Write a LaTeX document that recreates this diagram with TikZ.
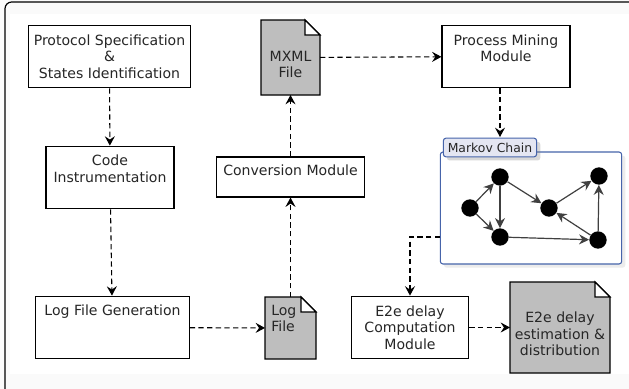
\documentclass[tikz,border=0pt]{standalone}
\usepackage{fontspec}
\setmainfont{DejaVu Sans}
\usetikzlibrary{arrows.meta,shapes,positioning,shadows}
\definecolor{docgray}{RGB}{190,190,190}
\definecolor{chainblue}{RGB}{70,100,170}
\definecolor{tabfill}{RGB}{228,230,242}
\tikzset{
  basic/.style = {draw=black, line width=0.85pt, rectangle, align=center, font=\fontsize{10.55}{12.5}\selectfont, text=black!85},
  module/.style = {basic, fill=white},
  doc/.style = {align=center, font=\fontsize{10.55}{12.5}\selectfont, text=black!85},
  sheet/.style = {inner sep=0pt, outer sep=0pt},
  link/.style = {-{Stealth[length=7pt,width=7.5pt,inset=2.5pt]}, line width=0.8pt, dash pattern=on 4pt off 2.5pt},
  plain link/.style = {-{Stealth[length=7.5pt,width=7.5pt,inset=2.5pt]}, line width=0.9pt, black!75},
  state/.style = {circle, fill=black, inner sep=0pt, minimum size=13pt},
}
% folded sheet: name, left, top, right, bottom, fold
\newcommand{\docsheet}[6]{
  \draw[line width=0.85pt, fill=docgray] (#2,#3) -- (#4-#6,#3) -- (#4,#3+#6) -- (#4,#5) -- (#2,#5) -- cycle;
  \draw[line width=0.85pt, fill=white] (#4-#6,#3) -- (#4,#3+#6) -- (#4-#6,#3+#6) -- cycle;
  \node[sheet, minimum width={(#4-#2)*0.75pt}, minimum height={(#5-#3)*0.75pt}] (#1) at ({(#2+#4)/2},{(#3+#5)/2}) {};
}
\begin{document}
\begin{tikzpicture}[x=0.75pt,y=-0.75pt]
  \useasboundingbox (0,0) rectangle (629,389);
  \fill[black!2] (0,0) rectangle (629,389);
  \fill[white] (10,14) rectangle (629,374);
  \draw[line width=0.9pt, rounded corners=5pt] (5,390) -- (5,2) -- (630,2);

  % left column
  \node[module, minimum width=122pt, minimum height=47pt] (spec) at (109.5,56.5) {Protocol Specification\\\&\\States Identification};
  \node[module, minimum width=96pt, minimum height=47pt, text depth=13pt] (code) at (110,177.5) {Code\\Instrumentation};
  \node[module, minimum width=115pt, minimum height=47pt, text depth=26pt] (gen) at (112.5,327.5) {Log File Generation};

  % middle column
  \node[module, minimum width=111pt, minimum height=30pt, text depth=11pt] (conv) at (290.5,177) {Conversion Module};
  \docsheet{mxml}{261}{20}{320}{95}{15}
  \node[doc] (mxmltext) at (290.5,64.5) {MXML\\File};
  \docsheet{log}{265}{297}{316}{359}{15}
  \node[doc, anchor=north west, align=left, inner sep=0pt] (logtext) at (271,304.5) {Log\\File};

  % right column
  \node[module, minimum width=96pt, minimum height=47pt, text depth=12.5pt] (mining) at (506,56.5) {Process Mining\\Module};
  \node[module, minimum width=88pt, minimum height=47pt] (delay) at (410,327.5) {E2e delay\\Computation\\Module};
  \docsheet{est}{510}{282}{610}{373}{15}
  \node[doc] (esttext) at (560,334) {E2e delay\\estimation \&\\distribution};

  % chain panel and its tab
  \node[draw=chainblue, line width=0.8pt, fill=white, rounded corners=2pt, minimum width=136pt, minimum height=84pt, drop shadow={opacity=0.15}] (chain) at (531,208) {};
  \node[draw=chainblue, line width=0.8pt, fill=tabfill, rounded corners=2pt, minimum width=70pt, minimum height=14pt, inner sep=0pt, font=\fontsize{9.3}{11}\selectfont, text=black!85, drop shadow={opacity=0.3}] (tab) at (490,147.5) {Markov Chain};
  \coordinate (tabin) at (500,137);
  \coordinate (chainout) at (440,237);

  % states
  \node[state] (s1) at (470,208) {};
  \node[state] (s2) at (500,177) {};
  \node[state] (s3) at (500,237) {};
  \node[state] (s4) at (549,208) {};
  \node[state] (s5) at (599,176) {};
  \node[state] (s6) at (598,240) {};

  \foreach \from/\to in {s1/s2,s1/s3,s2/s3,s2/s4,s3/s6,s4/s5,s6/s4,s6/s5}
    \draw[plain link] (\from) -- (\to);

  % dashed flow
  \draw[link] (spec) -- (code);
  \draw[link] (code) -- (gen);
  \draw[link] (gen) -- (log);
  \draw[link] (log.north -| conv) -- (conv);
  \draw[link] (conv) -- (mxml);
  \draw[link] (mxml) -- (mining);
  \draw[link] (mining.south -| tabin) -- (tabin);
  \draw[link] (chainout) -| (delay);
  \draw[link] (delay) -- (est);
\end{tikzpicture}
\end{document}
